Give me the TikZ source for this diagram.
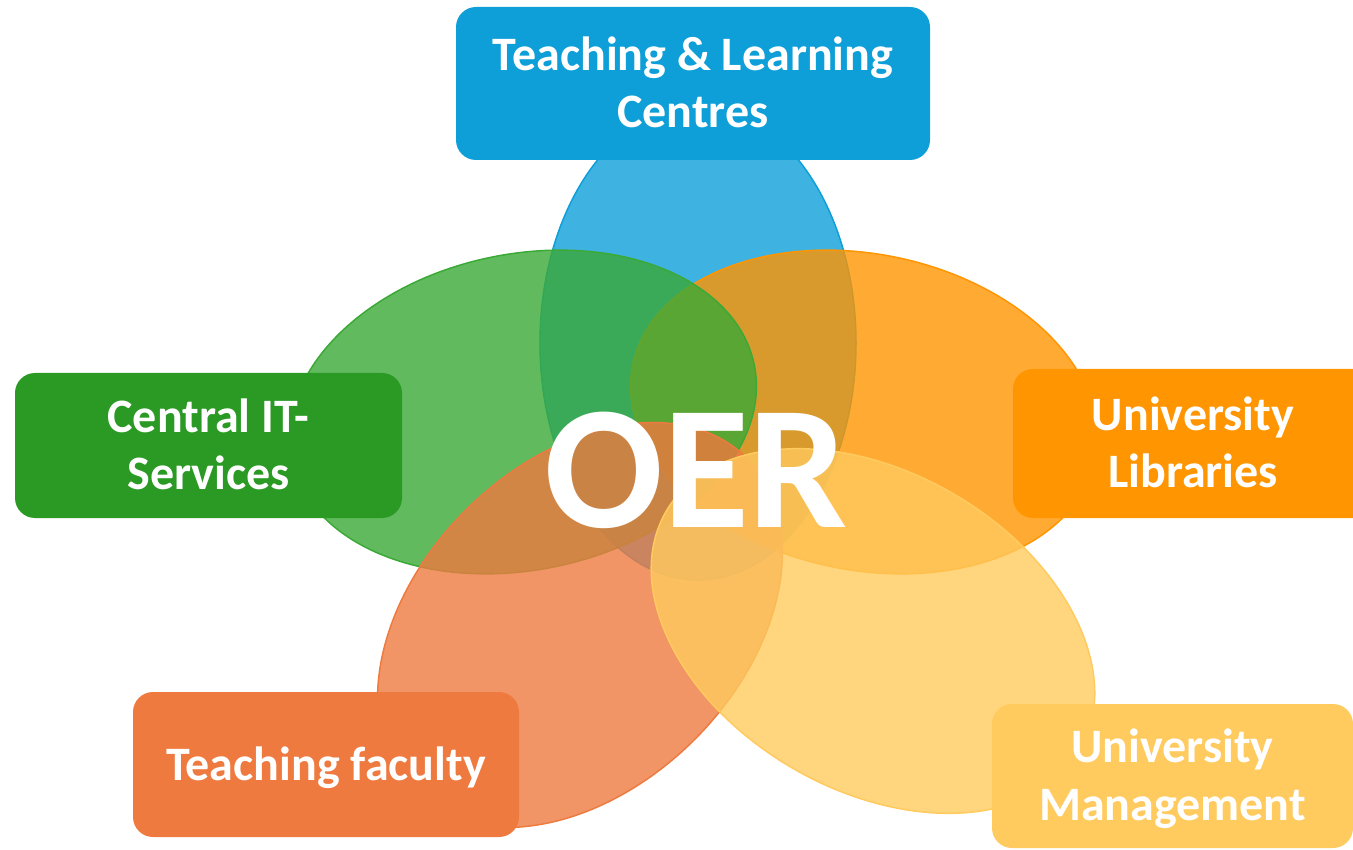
\documentclass[tikz,border=0pt]{standalone}
\usepackage{fontspec}
\setmainfont{Carlito}
\definecolor{cBlue}{HTML}{0E9FD8}
\definecolor{cGreen}{HTML}{2A9A24}
\definecolor{eGreen}{HTML}{3BA936}
\definecolor{cOrange}{HTML}{FF9500}
\definecolor{cRed}{HTML}{EE7A40}
\definecolor{cYellow}{HTML}{FFCA5E}
\newcommand\bstrut{\rule[-12pt]{0pt}{55pt}}
\begin{document}
\begin{tikzpicture}[x=1pt,y=-1pt,
  petal/.style={line width=1.5pt, fill opacity=0.8},
  box/.style={rounded corners=20pt, inner sep=0pt, text=white, align=center,
    font=\fontsize{48}{57.5}\selectfont\bfseries},
]
\useasboundingbox (0,0) rectangle (1353,850);
\clip (0,0) rectangle (1353,850);
% petals
\path[petal, fill=cBlue, draw=cBlue] (698,343) ellipse [x radius=158pt, y radius=237pt];
\path[petal, fill=cOrange, draw=cOrange] (864,412) ellipse [x radius=236pt, y radius=158pt, rotate=-11.5];
\path[petal, fill=eGreen, draw=eGreen] (523,412) ellipse [x radius=236pt, y radius=158pt, rotate=11.5];
\path[petal, fill=cRed, draw=cRed] (580,625) ellipse [x radius=236pt, y radius=162pt, rotate=45];
\path[petal, fill=cYellow, draw=cYellow] (873,631) ellipse [x radius=239pt, y radius=159pt, rotate=-30];
% boxes
\node[box, fill=cBlue, minimum width=474pt, minimum height=153pt] (tlc) at (693,83.5)
  {\bstrut Teaching \& Learning\\\bstrut Centres};
\node[box, fill=cGreen, minimum width=387pt, minimum height=145pt] (cit) at (208.5,445.5)
  {\bstrut Central IT-\\\bstrut Services};
\node[box, fill=cOrange, minimum width=360pt, minimum height=149pt] (ulib) at (1193,443.5)
  {\bstrut University\\\bstrut Libraries};
\node[box, fill=cRed, minimum width=386pt, minimum height=145pt] (tf) at (326,764.5)
  {\bstrut Teaching faculty};
\node[box, fill=cYellow, minimum width=361pt, minimum height=144pt] (um) at (1172.5,776)
  {\bstrut University\\\bstrut Management};
% centre
\node[anchor=base, inner sep=0pt, text=white, font=\fontsize{176}{176}\selectfont\bfseries] (oer) at (696,527) {OER};
\end{tikzpicture}
\end{document}
